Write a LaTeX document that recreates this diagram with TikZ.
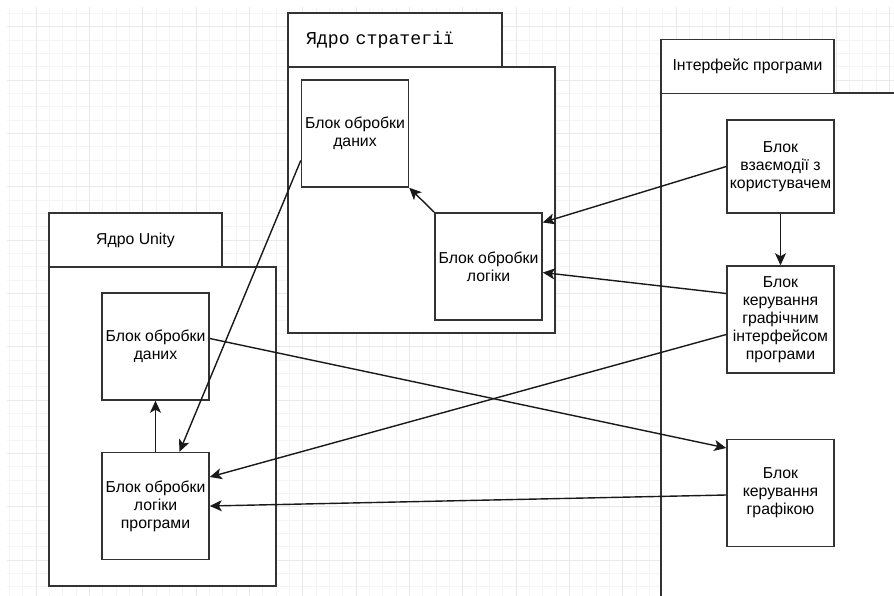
\documentclass[tikz,border=0pt]{standalone}
\usepackage{fontspec}
\setmainfont{Liberation Sans}
\newfontfamily\hdrmono{Liberation Mono}
\usetikzlibrary{arrows.meta,positioning}
\definecolor{gridmajor}{HTML}{E9E9E9}
\definecolor{gridminor}{HTML}{F4F4F4}
\definecolor{edgegray}{HTML}{333333}

\begin{document}
\begin{tikzpicture}[x=1pt, y=-1pt,
  every node/.style={font=\fontsize{15.8}{18}\selectfont},
  frame/.style={draw=edgegray, fill=white, line width=1.5pt, inner sep=0pt},
  blk/.style={frame, minimum width=107pt, minimum height=107pt, align=center},
  hdr/.style={frame, minimum height=54pt},
  link/.style={draw=black!90, line width=1.4pt, -{Stealth[length=12pt,width=11pt,inset=3pt]}}]

  \useasboundingbox (0,0) rectangle (894,596);
  \clip (0,0) rectangle (894,596);

  % background grid
  \foreach \gx in {0,...,66}
    \draw[gridminor, line width=0.8pt] ({9.3+13.333*\gx},7) -- ++(0,589);
  \foreach \gy in {1,...,44}
    \draw[gridminor, line width=0.8pt] (7,{13.333*\gy}) -- ++(887,0);
  \foreach \gx in {0,...,16}
    \draw[gridmajor, line width=0.9pt] ({36+53.333*\gx},7) -- ++(0,589);
  \foreach \gy in {0,...,10}
    \draw[gridmajor, line width=0.9pt] (7,{26.7+53.333*\gy}) -- ++(887,0);

  % strategy core
  \node[frame, minimum width=267pt, minimum height=266pt] (sbody) at (421.5,200) {};
  \node[hdr, minimum width=214pt, text width=178pt, inner xsep=18pt, align=left,
    font=\hdrmono\fontsize{18.2}{20}\selectfont] (shdr) at (395,40) {Ядро стратегії};
  \node[blk] (sdata) at (355,133.5) {Блок обробки\\даних};
  \node[blk] (slogic) at (488.5,266.5) {Блок обробки\\логіки};

  % unity core
  \node[frame, minimum width=227pt, minimum height=319pt] (ubody) at (162.5,426.5) {};
  \node[hdr, minimum width=173pt] (uhdr) at (135.5,240) {Ядро Unity};
  \node[blk] (udata) at (155.5,346.5) {Блок обробки\\даних};
  \node[blk] (ulogic) at (155.5,506) {Блок обробки\\логіки\\програми};

  % program interface
  \node[frame, minimum width=240pt, minimum height=510pt] (ibody) at (781,348) {};
  \node[hdr, minimum width=173pt] (ihdr) at (747.5,66.5) {Інтерфейс програми};
  \node[blk, minimum height=93pt] (user) at (780.5,166.5) {Блок\\взаємодії з\\користувачем};
  \node[blk] (gui) at (780.5,319.5) {Блок\\керування\\графічним\\інтерфейсом\\програми};
  \node[blk] (gfx) at (780.5,493) {Блок\\керування\\графікою};

  % connectors
  \draw[link] (user.west) -- ([yshift=44pt]slogic.east);
  \draw[link] (user.south) -- (gui.north);
  \draw[link] ([yshift=26pt]gui.west) -- ([yshift=-6pt]slogic.east);
  \draw[link] ([yshift=-15pt]gui.west) -- ([yshift=29pt]ulogic.east);
  \draw[link] ([yshift=-2pt]gfx.west) -- (ulogic.east);
  \draw[link] ([yshift=8pt]udata.east) -- ([yshift=45pt]gfx.west);
  \draw[link] ([yshift=-27pt]sdata.west) -- ([xshift=24pt]ulogic.north);
  \draw[link] (ulogic.north) -- (udata.south);
  \draw[link] (slogic.north west) -- (sdata.south east);

\end{tikzpicture}
\end{document}
